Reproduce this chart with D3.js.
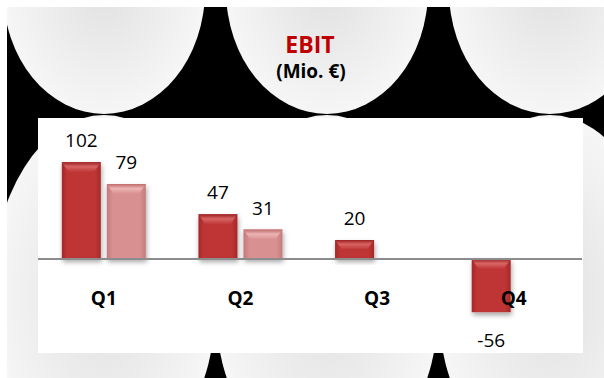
<!DOCTYPE html>
<html>
<head>
<meta charset="utf-8">
<script src="https://cdn.jsdelivr.net/npm/d3@7/dist/d3.min.js"></script>
<style>
  body { margin: 0; background: #fff; }
  svg { display: block; font-family: "Open Sans", sans-serif; }
</style>
</head>
<body>
<div class="chart-wrapper"></div>
<script>
// data
const QUARTERS = ['Q1', 'Q2', 'Q3', 'Q4'];
const EBIT_CURRENT = [102, 47, 20, -56];
const EBIT_PREVIOUS = [79, 31, null, null];

const WIDTH = 604, HEIGHT = 378;
const PLOT = {left: 38, right: 583, top: 118, bottom: 353};

const svg = d3.select('.chart-wrapper').append('svg')
  .attr('width', WIDTH)
  .attr('height', HEIGHT);

const defs = svg.append('defs');

// background blobs gradient
const blob = defs.append('radialGradient').attr('id', 'blob');
blob.append('stop').attr('offset', '0%').attr('stop-color', '#e1e1e1');
blob.append('stop').attr('offset', '100%').attr('stop-color', '#f6f6f6');

// bar gradients: sides darker, top bevel
function barGradients(name, edge, mid, bevelTop, bevelLight) {
  const side = defs.append('linearGradient').attr('id', name + '-side')
    .attr('x1', 0).attr('x2', 1).attr('y1', 0).attr('y2', 0);
  side.append('stop').attr('offset', '0%').attr('stop-color', edge);
  side.append('stop').attr('offset', '15%').attr('stop-color', mid);
  side.append('stop').attr('offset', '85%').attr('stop-color', mid);
  side.append('stop').attr('offset', '100%').attr('stop-color', edge);
  const bevel = defs.append('linearGradient').attr('id', name + '-bevel')
    .attr('x1', 0).attr('x2', 0).attr('y1', 0).attr('y2', 1);
  bevel.append('stop').attr('offset', '0%').attr('stop-color', bevelTop);
  bevel.append('stop').attr('offset', '45%').attr('stop-color', bevelLight);
  bevel.append('stop').attr('offset', '100%').attr('stop-color', mid);
}
barGradients('dark', '#a52828', '#bf3636', '#9c2020', '#d86464');
barGradients('light', '#c47a7a', '#d99090', '#c06a6a', '#ecb4b4');

const shadow = defs.append('filter').attr('id', 'shadow')
  .attr('x', '-30%').attr('y', '-30%').attr('width', '160%').attr('height', '160%');
shadow.append('feDropShadow')
  .attr('dx', 1).attr('dy', 3).attr('stdDeviation', 2.5)
  .attr('flood-color', '#000').attr('flood-opacity', 0.35);

defs.append('clipPath').attr('id', 'bg-clip')
  .append('rect').attr('x', 7).attr('y', 7).attr('width', WIDTH - 7).attr('height', HEIGHT - 7);

// background: black with grey blobs
const bg = svg.append('g').attr('clip-path', 'url(#bg-clip)');
bg.append('rect').attr('x', 7).attr('y', 7).attr('width', WIDTH).attr('height', HEIGHT).attr('fill', '#000');
[104, 327, 550].forEach(function(cx) {
  bg.append('ellipse').attr('cx', cx).attr('cy', 295).attr('rx', 113).attr('ry', 180).attr('fill', 'url(#blob)');
  bg.append('ellipse').attr('cx', cx).attr('cy', -10).attr('rx', 101).attr('ry', 124).attr('fill', 'url(#blob)');
});

// title
svg.append('text').attr('x', 310).attr('y', 53)
  .attr('text-anchor', 'middle').attr('font-weight', 'bold').attr('font-size', 23)
  .attr('fill', '#c00000').text('EBIT');
svg.append('text').attr('x', 311).attr('y', 78)
  .attr('text-anchor', 'middle').attr('font-weight', 'bold').attr('font-size', 19)
  .attr('fill', '#000').text('(Mio. €)');

// plot area
svg.append('rect')
  .attr('x', PLOT.left).attr('y', PLOT.top)
  .attr('width', PLOT.right - PLOT.left).attr('height', PLOT.bottom - PLOT.top)
  .attr('fill', '#fff');

const x = d3.scaleBand().domain(QUARTERS).range([35.5, 582]);
const x1 = d3.scaleBand().domain(['current', 'previous']).range([-42, 42]).paddingInner(0.1333);
const y = d3.scaleLinear().domain([-99, 148.5]).range([PLOT.bottom, PLOT.top]);

const rows = [];
QUARTERS.forEach(function(q, i) {
  rows.push({q: q, key: 'current', value: EBIT_CURRENT[i], style: 'dark'});
  if (EBIT_PREVIOUS[i] !== null) rows.push({q: q, key: 'previous', value: EBIT_PREVIOUS[i], style: 'light'});
});

function barX(d) { return x(d.q) + x.bandwidth() / 2 + x1(d.key); }

const bars = svg.append('g').selectAll('g')
  .data(rows)
  .enter().append('g')
  .attr('filter', 'url(#shadow)');

bars.append('rect')
  .attr('x', barX)
  .attr('y', function(d) { return Math.min(y(d.value), y(0)); })
  .attr('width', x1.bandwidth())
  .attr('height', function(d) { return Math.abs(y(d.value) - y(0)); })
  .attr('fill', function(d) { return `url(#${d.style}-side)`; });

// top bevel
bars.append('path')
  .attr('d', function(d) {
    const x0 = barX(d), w = x1.bandwidth();
    const top = Math.min(y(d.value), y(0));
    const h = Math.min(10, Math.abs(y(d.value) - y(0)) / 2);
    return `M${x0},${top}L${x0 + w},${top}L${x0 + w - 7},${top + h}L${x0 + 7},${top + h}Z`;
  })
  .attr('fill', function(d) { return `url(#${d.style}-bevel)`; });

// zero line
svg.append('line')
  .attr('x1', PLOT.left).attr('x2', PLOT.right - 1)
  .attr('y1', y(0)).attr('y2', y(0))
  .attr('stroke', '#8c8c8c').attr('stroke-width', 2);

// value labels
svg.append('g').selectAll('text')
  .data(rows)
  .enter().append('text')
  .attr('x', function(d) { return barX(d) + x1.bandwidth() / 2; })
  .attr('y', function(d) { return d.value >= 0 ? y(d.value) - 15 : y(d.value) + 35; })
  .attr('text-anchor', 'middle')
  .attr('font-size', 19)
  .attr('fill', '#000')
  .text(function(d) { return d.value; });

// category labels
svg.append('g').selectAll('text')
  .data(QUARTERS)
  .enter().append('text')
  .attr('x', function(d) { return x(d) + x.bandwidth() / 2; })
  .attr('y', 305)
  .attr('text-anchor', 'middle')
  .attr('font-weight', 'bold')
  .attr('font-size', 19)
  .attr('fill', '#000')
  .text(function(d) { return d; });
</script>
</body>
</html>
